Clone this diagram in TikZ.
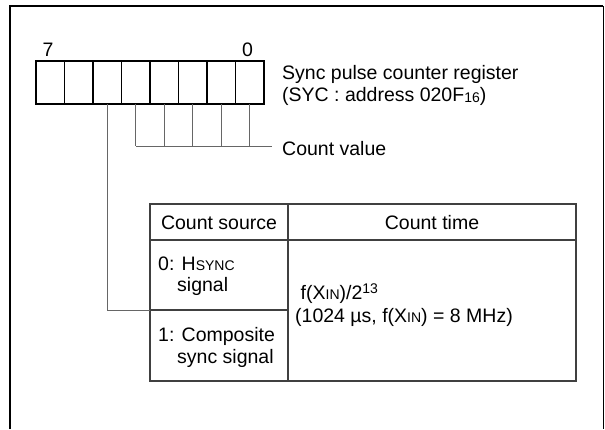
\documentclass[tikz,border=0pt]{standalone}
\usepackage{fontspec}
\setmainfont{Liberation Sans}
\tikzset{
  cell/.style={draw=black, line width=1.8pt, minimum width=28.5pt, minimum height=43pt, inner sep=0pt, outer sep=0pt},
  tcell/.style={draw=black!75, line width=1.1pt, inner sep=0pt, outer sep=0pt, anchor=north west},
  conn/.style={draw=black!60, line width=0.9pt},
  lbl/.style={inner sep=0pt, anchor=base west},
}
\newcommand{\smc}[1]{{\fontsize{14}{16}\selectfont #1}}
\begin{document}
\begin{tikzpicture}[x=1pt,y=-1pt,font=\fontsize{19.5}{23}\selectfont]
\useasboundingbox (0,0) rectangle (605,429);
% frame
\draw[line width=2.5pt] (10,429) -- (10,6) -- (603,6);
\draw[line width=0.9pt] (603,6) -- (603,429);
% register
\foreach \b in {0,...,7} {
  \node[cell] (b\b) at ({36+(7-\b+0.5)*28.5},82.5) {};
}
\node[inner sep=0pt, anchor=base] (n7) at (48,56) {7};
\node[inner sep=0pt, anchor=base] (n0) at (247.5,56) {0};
\node[lbl] (title1) at (282,79.5) {Sync pulse counter register};
\node[lbl] (title2) at (282,101) {(SYC : address 020F\raisebox{-1pt}{\smc{16}})};
% count value
\coordinate (cvend) at (272,146);
\foreach \b in {4,...,0} { \draw[conn] (b\b.south) -- (b\b.south |- cvend); }
\draw[conn] (b4.south |- cvend) -- (cvend);
\node[lbl] (cv) at (282,155) {Count value};
% table
\node[tcell, minimum width=138pt, minimum height=36pt] (th1) at (150,204) {};
\node[tcell, minimum width=288pt, minimum height=36pt] (th2) at (288,204) {};
\node[tcell, minimum width=138pt, minimum height=70pt] (c0) at (150,240) {};
\node[tcell, minimum width=138pt, minimum height=71pt] (c1) at (150,310) {};
\node[tcell, minimum width=288pt, minimum height=141pt] (cr) at (288,240) {};
\node[inner sep=0pt, anchor=base] (th1t) at (th1.center |- 0,229) {Count source};
\node[inner sep=0pt, anchor=base] (th2t) at (th2.center |- 0,229) {Count time};
\node[lbl] (c0a) at (158,270) {0: H\smc{SYNC}};
\node[lbl] (c0b) at (177,291) {signal};
\node[lbl] (c1a) at (158,341) {1: Composite};
\node[lbl] (c1b) at (177,363) {sync signal};
\node[lbl] (cra) at (300.5,299) {f(X\smc{IN})/2\raisebox{6pt}{\smc{13}}};
\node[lbl] (crb) at (295,322) {(1024 µs, f(X\smc{IN}) = 8 MHz)};
% source connector
\draw[conn] (b5.south) |- (c1.north west);
\end{tikzpicture}
\end{document}
